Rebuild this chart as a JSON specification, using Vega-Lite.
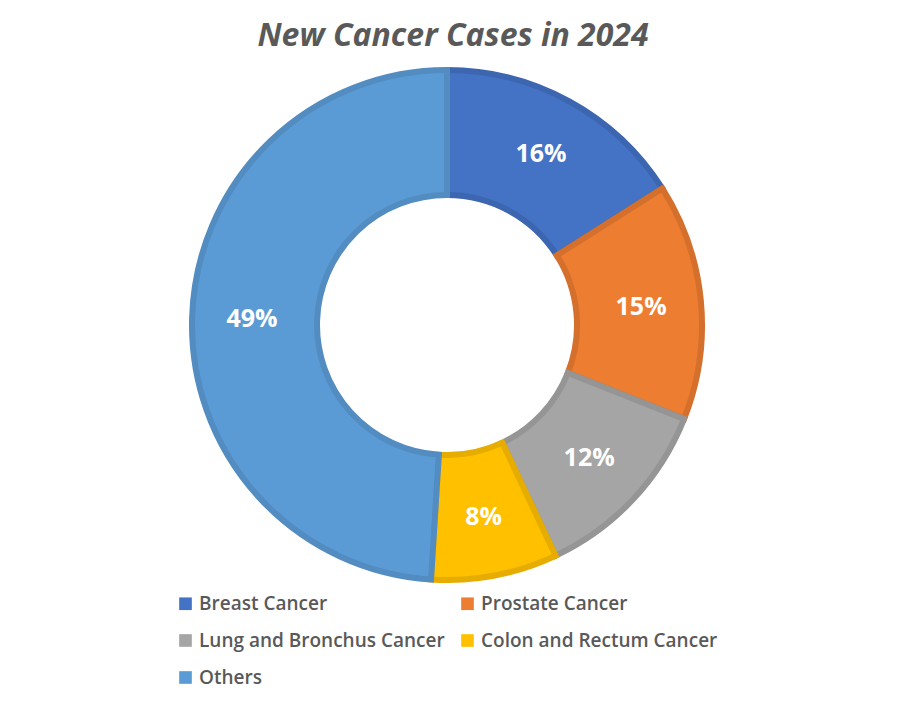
{
  "$schema": "https://vega.github.io/schema/vega-lite/v6.json",
  "description": "Donut chart of new cancer cases in 2024.",
  "autosize": {"type": "none"},
  "width": 894,
  "height": 530,
  "padding": {"top": 60, "left": 0, "right": 14, "bottom": 117},
  "background": "white",
  "title": {
    "text": "New Cancer Cases in 2024",
    "font": "Open Sans",
    "fontSize": 32,
    "fontWeight": "bold",
    "fontStyle": "italic",
    "color": "#595959",
    "anchor": "middle",
    "dx": 6,
    "offset": 5
  },
  "data": {
    "values": [
      {"category": "Breast Cancer", "share": 0.16, "rank": 1},
      {"category": "Prostate Cancer", "share": 0.15, "rank": 2},
      {"category": "Lung and Bronchus Cancer", "share": 0.12, "rank": 3},
      {"category": "Colon and Rectum Cancer", "share": 0.08, "rank": 4},
      {"category": "Others", "share": 0.49, "rank": 5}
    ]
  },
  "encoding": {
    "theta": {"field": "share", "type": "quantitative", "stack": true},
    "order": {"field": "rank", "type": "quantitative"}
  },
  "layer": [
    {
      "mark": {"type": "arc", "outerRadius": 255, "innerRadius": 130, "strokeWidth": 6},
      "encoding": {
        "color": {
          "field": "category",
          "type": "nominal",
          "sort": null,
          "scale": {
            "domain": ["Breast Cancer", "Prostate Cancer", "Lung and Bronchus Cancer", "Colon and Rectum Cancer", "Others"],
            "range": ["#4472C4", "#ED7D31", "#A5A5A5", "#FFC000", "#5B9BD5"]
          },
          "legend": {
            "title": null,
            "orient": "none",
            "legendX": 176,
            "legendY": 534,
            "direction": "horizontal",
            "columns": 2,
            "columnPadding": 13,
            "rowPadding": 17,
            "symbolType": "square",
            "symbolSize": 160,
            "symbolStrokeWidth": 0,
            "labelFont": "Open Sans",
            "labelFontSize": 19,
            "labelFontWeight": 600,
            "labelColor": "#595959",
            "labelOffset": 4,
            "labelLimit": 400
          }
        },
        "stroke": {
          "field": "category",
          "type": "nominal",
          "scale": {
            "domain": ["Breast Cancer", "Prostate Cancer", "Lung and Bronchus Cancer", "Colon and Rectum Cancer", "Others"],
            "range": ["#3D66B0", "#D4702C", "#959595", "#E6AD00", "#528CC0"]
          },
          "legend": null
        }
      }
    },
    {
      "mark": {"type": "text", "radius": 195, "font": "Open Sans", "fontSize": 25, "fontWeight": "bold", "color": "white"},
      "encoding": {
        "text": {"field": "share", "type": "quantitative", "format": ".0%"},
        "detail": {"field": "category", "type": "nominal"}
      }
    }
  ],
  "view": {"stroke": null}
}
